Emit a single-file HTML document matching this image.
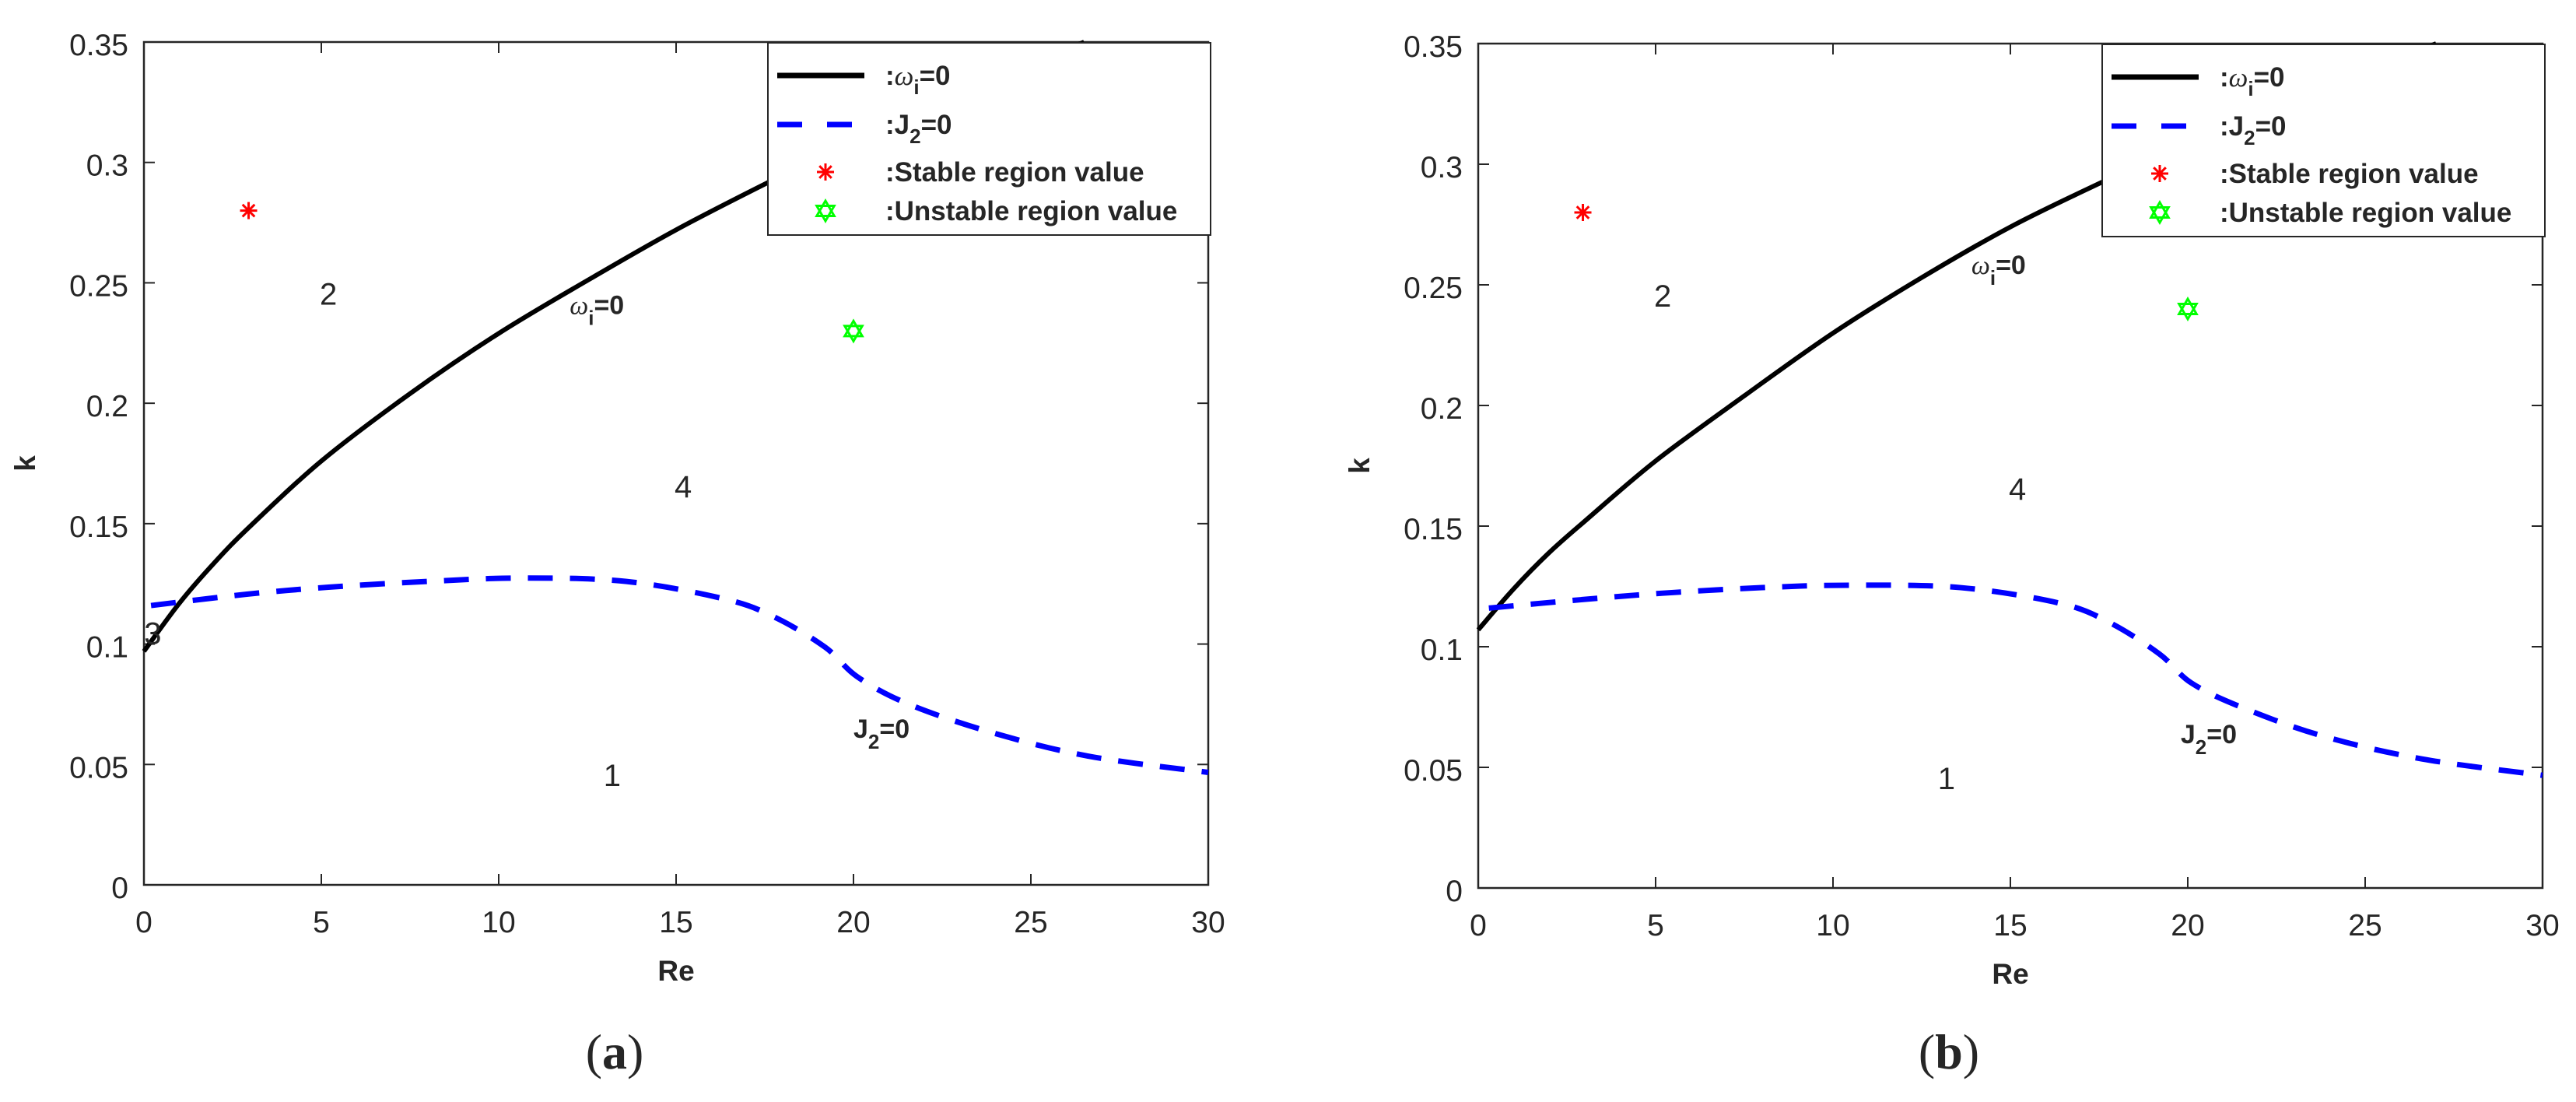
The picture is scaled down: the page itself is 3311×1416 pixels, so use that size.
<!DOCTYPE html>
<html><head><meta charset="utf-8"><style>
html,body{margin:0;padding:0;background:#fff;}
svg{display:block;}
text{font-family:"Liberation Sans",Arial,sans-serif;fill:#262626;}
</style></head><body>
<svg id="chart" width="3311" height="1416" viewBox="0 0 3311 1416" xmlns="http://www.w3.org/2000/svg"></svg>
<script>
// ---- data ----
const xTicks = [0,5,10,15,20,25,30];
const yTicks = [0,0.05,0.1,0.15,0.2,0.25,0.3,0.35];
const yTickLabels = ["0","0.05","0.1","0.15","0.2","0.25","0.3","0.35"];
const blackReA = [0,1,2,3,5,7.5,10,12.5,15,17.5,20,22.5,25,26.5];
const blackKA  = [0.097,0.117,0.134,0.149,0.176,0.204,0.229,0.251,0.272,0.291,0.309,0.326,0.341,0.35];
const blueReA  = [0.2,2.9,5.2,8,10.6,13.6,16.4,17.8,19.2,20.1,21.5,23.8,26.6,30];
const blueKA   = [0.116,0.1207,0.1236,0.126,0.1274,0.126,0.1186,0.111,0.0987,0.0865,0.0754,0.0637,0.0535,0.0467];
const blackReB = [0,1,2,3,5,7.5,10,12.5,15,17.5,20,22.5,25,27];
const blackKB  = [0.107,0.124,0.139,0.152,0.177,0.204,0.230,0.253,0.274,0.292,0.309,0.325,0.339,0.35];
const blueReB  = [0.3,2.9,5.2,8,10.5,13.6,16.4,17.8,19.2,20.1,21.5,23.8,26.6,30];
const blueKB   = [0.116,0.1195,0.1222,0.1245,0.1255,0.1245,0.118,0.110,0.097,0.085,0.075,0.063,0.0535,0.0467];
const stableA = [2.95,0.28], unstableA = [20,0.23];
const stableB = [2.95,0.28], unstableB = [20,0.24];

const NS="http://www.w3.org/2000/svg";
const svg=document.getElementById('chart');
function mk(tag,attrs,parent){const e=document.createElementNS(NS,tag);for(const k in attrs)e.setAttribute(k,attrs[k]);(parent||svg).appendChild(e);return e;}

function smoothPath(pts){
  let d='M'+pts[0][0]+','+pts[0][1];
  for(let i=0;i<pts.length-1;i++){
    const p0=pts[i-1]||pts[i],p1=pts[i],p2=pts[i+1],p3=pts[i+2]||p2;
    const c1x=p1[0]+(p2[0]-p0[0])/6,c1y=p1[1]+(p2[1]-p0[1])/6;
    const c2x=p2[0]-(p3[0]-p1[0])/6,c2y=p2[1]-(p3[1]-p1[1])/6;
    d+=` C${c1x},${c1y} ${c2x},${c2y} ${p2[0]},${p2[1]}`;
  }
  return d;
}
function star(g,cx,cy){
  for(let i=0;i<4;i++){const a=i*Math.PI/4;const r=11;
    const l=mk('line',{x1:cx-r*Math.cos(a),y1:cy-r*Math.sin(a),x2:cx+r*Math.cos(a),y2:cy+r*Math.sin(a),stroke:'#ff0000','stroke-width':3},g);
    
    }
}
function hexagram(g,cx,cy){
  const r=13;const p1=[],p2=[];
  for(let i=0;i<3;i++){const a=-Math.PI/2+i*2*Math.PI/3;p1.push((cx+r*Math.cos(a))+','+(cy+r*Math.sin(a)));
    const b=Math.PI/2+i*2*Math.PI/3;p2.push((cx+r*Math.cos(b))+','+(cy+r*Math.sin(b)));}
  const a=mk('polygon',{points:p1.join(' '),fill:'none',stroke:'#00ff00','stroke-width':3},g);
  
  
  const b=mk('polygon',{points:p2.join(' '),fill:'none',stroke:'#00ff00','stroke-width':3},g);
  
  
}

function drawPlot(cfg){
  const {L,T,B,id}=cfg; const W=1368;
  const X=v=>L+v/30*W, Y=v=>B-v/0.35*(B-T);
  const g=mk('g',{});
  
  
  xTicks.forEach(t=>{
    const x=X(t);
    mk('line',{x1:x,y1:B,x2:x,y2:B-14,stroke:'#262626','stroke-width':2},g);
    mk('line',{x1:x,y1:T,x2:x,y2:T+14,stroke:'#262626','stroke-width':2},g);
    const tx=mk('text',{x:x,y:B+61,'font-size':39,'text-anchor':'middle'},g);tx.textContent=t;
    
    
  });
  yTicks.forEach((t,i)=>{
    const y=Y(t);
    mk('line',{x1:L,y1:y,x2:L+14,y2:y,stroke:'#262626','stroke-width':2},g);
    mk('line',{x1:L+W,y1:y,x2:L+W-14,y2:y,stroke:'#262626','stroke-width':2},g);
    const tx=mk('text',{x:L-20,y:y+17,'font-size':39,'text-anchor':'end'},g);tx.textContent=yTickLabels[i];
    
    
  });
  const box=mk('rect',{x:L,y:T,width:W,height:B-T,fill:'none',stroke:'#262626','stroke-width':2.5},g);
  
  
  const pb=cfg.blackRe.map((r,i)=>[X(r),Y(cfg.blackK[i])]);
  const cb=mk('path',{d:smoothPath(pb),fill:'none',stroke:'#000','stroke-width':6,'stroke-linejoin':'round'},g);
  
  
  const pu=cfg.blueRe.map((r,i)=>[X(r),Y(cfg.blueK[i])]);
  const cu=mk('path',{d:smoothPath(pu),fill:'none',stroke:'#0000ff','stroke-width':7,'stroke-dasharray':'32 22'},g);
  
  
  star(g,X(cfg.stable[0]),Y(cfg.stable[1]));
  hexagram(g,X(cfg.unstable[0]),Y(cfg.unstable[1]));
  cfg.regions.forEach(r=>{const t=mk('text',{x:X(r[1]),y:Y(r[2]),'font-size':40,'text-anchor':'middle',fill:'#000'},g);t.textContent=r[0];
    
    });
  const ol=mk('text',{x:X(cfg.omegaLab[0]),y:Y(cfg.omegaLab[1]),'font-size':34,'font-weight':'bold',fill:'#000'},g);
  ol.innerHTML='<tspan font-style="italic" font-weight="normal" font-family="Liberation Serif">ω</tspan><tspan dy="14" font-size="26">i</tspan><tspan dy="-14">=0</tspan>';
  
  
  const jl=mk('text',{x:X(cfg.jLab[0]),y:Y(cfg.jLab[1]),'font-size':34,'font-weight':'bold',fill:'#000'},g);
  jl.innerHTML='J<tspan dy="14" font-size="26">2</tspan><tspan dy="-14">=0</tspan>';
  
  
  const xl=mk('text',{x:L+W/2,y:B+123,'font-size':37,'font-weight':'bold','text-anchor':'middle'},g);xl.textContent='Re';
  
  
  const yl=mk('text',{x:0,y:0,'font-size':37,'font-weight':'bold','text-anchor':'middle',transform:`translate(${L-140},${(T+B)/2}) rotate(-90)`},g);yl.textContent='k';
  
  
  const lx=L+802, ly=T+1, lw=569, lh=247;
  const lg=mk('g',{},g);
  
  
  mk('rect',{x:lx,y:ly,width:lw,height:lh,fill:'#fff',stroke:'#262626','stroke-width':2},lg);
  mk('line',{x1:lx+12,y1:ly+42,x2:lx+124,y2:ly+42,stroke:'#000','stroke-width':7},lg);
  mk('line',{x1:lx+12,y1:ly+105,x2:lx+124,y2:ly+105,stroke:'#0000ff','stroke-width':7,'stroke-dasharray':'32 32'},lg);
  star(lg,lx+74,ly+166);
  hexagram(lg,lx+74,ly+216);
  const rows=[[':<tspan font-style="italic" font-weight="normal" font-family="Liberation Serif">ω</tspan><tspan dy="12" font-size="26">i</tspan><tspan dy="-12">=0</tspan>',54,'legend-omega'],
    [':J<tspan dy="12" font-size="26">2</tspan><tspan dy="-12">=0</tspan>',117,'legend-j2'],
    [':Stable region value',178,'legend-stable'],[':Unstable region value',228,'legend-unstable']];
  rows.forEach(r=>{const t=mk('text',{x:lx+151,y:ly+r[1],'font-size':35,'font-weight':'bold',fill:'#000'},lg);t.innerHTML=r[0];
    
    });
  const cap=mk('text',{x:L+605,y:1373,'font-size':64,'text-anchor':'middle',fill:'#000','font-family':'Liberation Serif'},g);
  cap.innerHTML='(<tspan font-weight="bold">'+id+'</tspan>)';
  cap.style.fontFamily='"Liberation Serif",serif';
  
  
}
drawPlot({id:'a',L:185,T:54,B:1137,blackRe:blackReA,blackK:blackKA,blueRe:blueReA,blueK:blueKA,stable:stableA,unstable:unstableA,
  regions:[['2',5.2,0.241],['4',15.2,0.161],['1',13.2,0.041],['3',0.25,0.1]],omegaLab:[12.0,0.237],jLab:[20,0.061]});
drawPlot({id:'b',L:1900,T:56,B:1141,blackRe:blackReB,blackK:blackKB,blueRe:blueReB,blueK:blueKB,stable:stableB,unstable:unstableB,
  regions:[['2',5.2,0.241],['4',15.2,0.161],['1',13.2,0.041]],omegaLab:[13.9,0.2545],jLab:[19.8,0.060]});
</script>
</body></html>
